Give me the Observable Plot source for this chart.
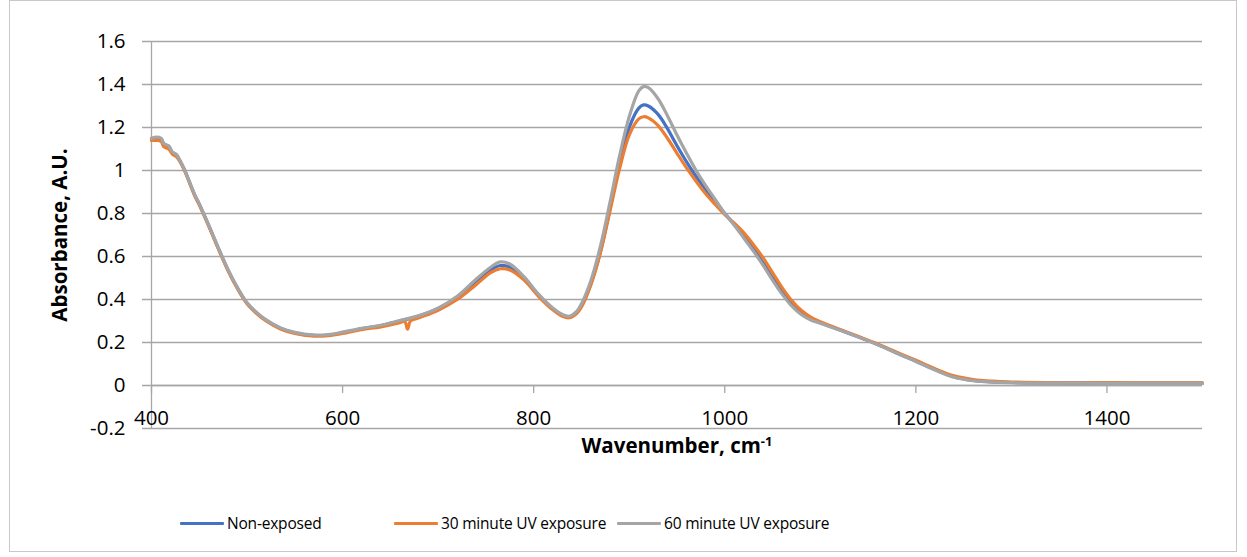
<!DOCTYPE html>
<html>
<head>
<meta charset="utf-8">
<script src="https://cdn.jsdelivr.net/npm/d3@7"></script>
<script src="https://cdn.jsdelivr.net/npm/@observablehq/plot@0.6"></script>
<style>
  html, body { margin: 0; padding: 0; background: #fff; }
  #wrap { position: relative; width: 1247px; height: 557px; font-family: "Open Sans", sans-serif; }
  #border { position: absolute; left: 9px; top: 0px; width: 1228px; height: 552px; border: 1px solid #c8c8c8; box-sizing: border-box; }
  #chart { position: absolute; left: 0; top: 0; }
  .leg { position: absolute; top: 511px; height: 24px; display: flex; align-items: center; font-size: 15.5px; letter-spacing: -0.2px; color: #000; white-space: nowrap; }
  .leg span.sw { display: inline-block; width: 44px; height: 3px; margin-right: 3px; border-radius: 1px; }
</style>
</head>
<body>
<div id="wrap">
  <div id="border"></div>
  <div id="chart"></div>
  <div id="legend"></div>
</div>
<script>
// ---- data ----
const seriesNames = ["Non-exposed", "30 minute UV exposure", "60 minute UV exposure"];
const seriesColors = ["#4472C4", "#ED7D31", "#A5A5A5"];

const wnCommon = [400,405,410,413,418,422,426,430,435,440,445,450,460,470,480,490,500,510,520,535,550,570,585,600,620,640,660,680,700,720,740,755,765,775,790,805,820,830,837,845,850,860,870,880,890,900,910,915,920,930,940,950,960,970,980,990,1000,1010,1020,1030,1040,1050,1060,1070,1080,1090,1100,1120,1140,1160,1180,1200,1220,1240,1260,1280,1300,1350,1400,1450,1500];

const absNonExposed = [1.148,1.152,1.147,1.122,1.112,1.083,1.073,1.043,0.998,0.943,0.888,0.843,0.743,0.638,0.538,0.453,0.383,0.338,0.303,0.266,0.245,0.233,0.235,0.246,0.264,0.278,0.300,0.323,0.358,0.410,0.487,0.537,0.558,0.550,0.495,0.420,0.357,0.328,0.320,0.340,0.370,0.475,0.625,0.825,1.035,1.200,1.290,1.305,1.300,1.262,1.195,1.115,1.040,0.972,0.910,0.855,0.800,0.748,0.692,0.635,0.570,0.500,0.435,0.380,0.340,0.310,0.292,0.259,0.226,0.191,0.151,0.113,0.074,0.040,0.024,0.017,0.014,0.012,0.011,0.011,0.011];

const abs60 = [1.150,1.155,1.150,1.125,1.115,1.085,1.075,1.045,1.000,0.945,0.890,0.845,0.745,0.640,0.540,0.455,0.385,0.340,0.305,0.268,0.247,0.235,0.237,0.248,0.266,0.280,0.302,0.325,0.360,0.415,0.495,0.550,0.575,0.565,0.505,0.425,0.360,0.330,0.322,0.345,0.380,0.490,0.650,0.855,1.070,1.250,1.370,1.390,1.385,1.335,1.255,1.165,1.080,1.000,0.930,0.865,0.800,0.745,0.685,0.625,0.560,0.490,0.425,0.370,0.330,0.305,0.290,0.258,0.225,0.190,0.150,0.112,0.072,0.038,0.022,0.016,0.013,0.011,0.010,0.010,0.010];

const wn30 = [400,405,410,413,418,422,426,430,435,440,445,450,460,470,480,490,500,510,520,535,550,570,585,600,620,640,660,665,668,671,680,700,720,740,755,765,775,790,805,820,830,837,845,850,860,870,880,890,900,910,915,920,930,940,950,960,970,980,990,1000,1010,1020,1030,1040,1050,1060,1070,1080,1090,1100,1120,1140,1160,1180,1200,1220,1240,1260,1280,1300,1350,1400,1450,1500];

const abs30 = [1.140,1.140,1.135,1.110,1.100,1.075,1.065,1.040,0.995,0.940,0.885,0.840,0.740,0.635,0.535,0.450,0.380,0.335,0.300,0.263,0.242,0.230,0.232,0.242,0.260,0.273,0.292,0.298,0.262,0.300,0.315,0.350,0.400,0.470,0.525,0.543,0.537,0.490,0.415,0.352,0.322,0.315,0.335,0.365,0.470,0.620,0.815,1.010,1.165,1.240,1.250,1.245,1.210,1.150,1.080,1.012,0.950,0.892,0.842,0.795,0.755,0.710,0.655,0.595,0.525,0.455,0.395,0.350,0.318,0.297,0.262,0.228,0.193,0.155,0.117,0.078,0.045,0.028,0.020,0.016,0.013,0.013,0.012,0.012];

const xTicks = [400, 600, 800, 1000, 1200, 1400];
const yTicks = [-0.2, 0, 0.2, 0.4, 0.6, 0.8, 1, 1.2, 1.4, 1.6];

// ---- build table ----
const rows = [
  ...wnCommon.map((w, i) => ({wn: w, abs: absNonExposed[i], s: seriesNames[0]})),
  ...wn30.map((w, i) => ({wn: w, abs: abs30[i], s: seriesNames[1]})),
  ...wnCommon.map((w, i) => ({wn: w, abs: abs60[i], s: seriesNames[2]}))
];

const gridColor = "#a6a6a6";
const fontFam = "'Open Sans', sans-serif";
const tickFont = 20.5;
const titleFont = 20.5;

const chart = Plot.plot({
  width: 1247,
  height: 470,
  marginLeft: 151,
  marginRight: 45,
  marginTop: 41,
  marginBottom: 42,
  style: {fontFamily: fontFam, fontSize: tickFont + "px", color: "#000", background: "transparent", overflow: "visible"},
  x: {domain: [400, 1500], axis: null},
  y: {domain: [-0.2, 1.6], axis: null},
  color: {domain: seriesNames, range: seriesColors},
  marks: [
    Plot.ruleY(yTicks, {stroke: gridColor, strokeWidth: 1.3, insetLeft: -9}),
    Plot.ruleX([400], {stroke: gridColor, strokeWidth: 1.3}),
    Plot.ruleY([0], {stroke: gridColor, strokeWidth: 1.3}),
    Plot.ruleX(xTicks, {x: d => d, y1: 0, y2: -0.037, stroke: gridColor, strokeWidth: 1.3}),
    Plot.text(yTicks, {x: 400, y: d => d, text: d => String(+d.toFixed(1)), textAnchor: "end", dx: -26, fill: "#000", fontSize: tickFont}),
    Plot.text(xTicks, {x: d => d, y: 0, text: d => String(d), dy: 33, fill: "#000", fontSize: tickFont}),
    Plot.line(rows, {x: "wn", y: "abs", z: "s", stroke: "s", strokeWidth: 3.2, curve: "catmull-rom"}),
    Plot.text(["Absorbance, A.U."], {frameAnchor: "left", dx: -91, rotate: -90, textAnchor: "middle", lineAnchor: "middle", fontWeight: "bold", fontSize: titleFont, fill: "#000"}),
    Plot.text(["Wavenumber, cm"], {frameAnchor: "bottom", dy: 18, textAnchor: "middle", lineAnchor: "middle", fontWeight: "bold", fontSize: titleFont, fill: "#000", className: "xtitle"})
  ]
});
document.getElementById("chart").appendChild(chart);

// superscript on the x-axis title
const xt = chart.querySelector(".xtitle text");
if (xt) {
  const sup = document.createElementNS("http://www.w3.org/2000/svg", "tspan");
  sup.textContent = "-1";
  sup.setAttribute("font-size", "13");
  sup.setAttribute("dy", "-7");
  xt.appendChild(sup);
}

// legend
const legendX = [180, 394, 617];
const leg = document.getElementById("legend");
seriesNames.forEach((name, i) => {
  const d = document.createElement("div");
  d.className = "leg";
  d.style.left = legendX[i] + "px";
  d.innerHTML = `<span class="sw" style="background:${seriesColors[i]}"></span>${name}`;
  leg.appendChild(d);
});
</script>
</body>
</html>
